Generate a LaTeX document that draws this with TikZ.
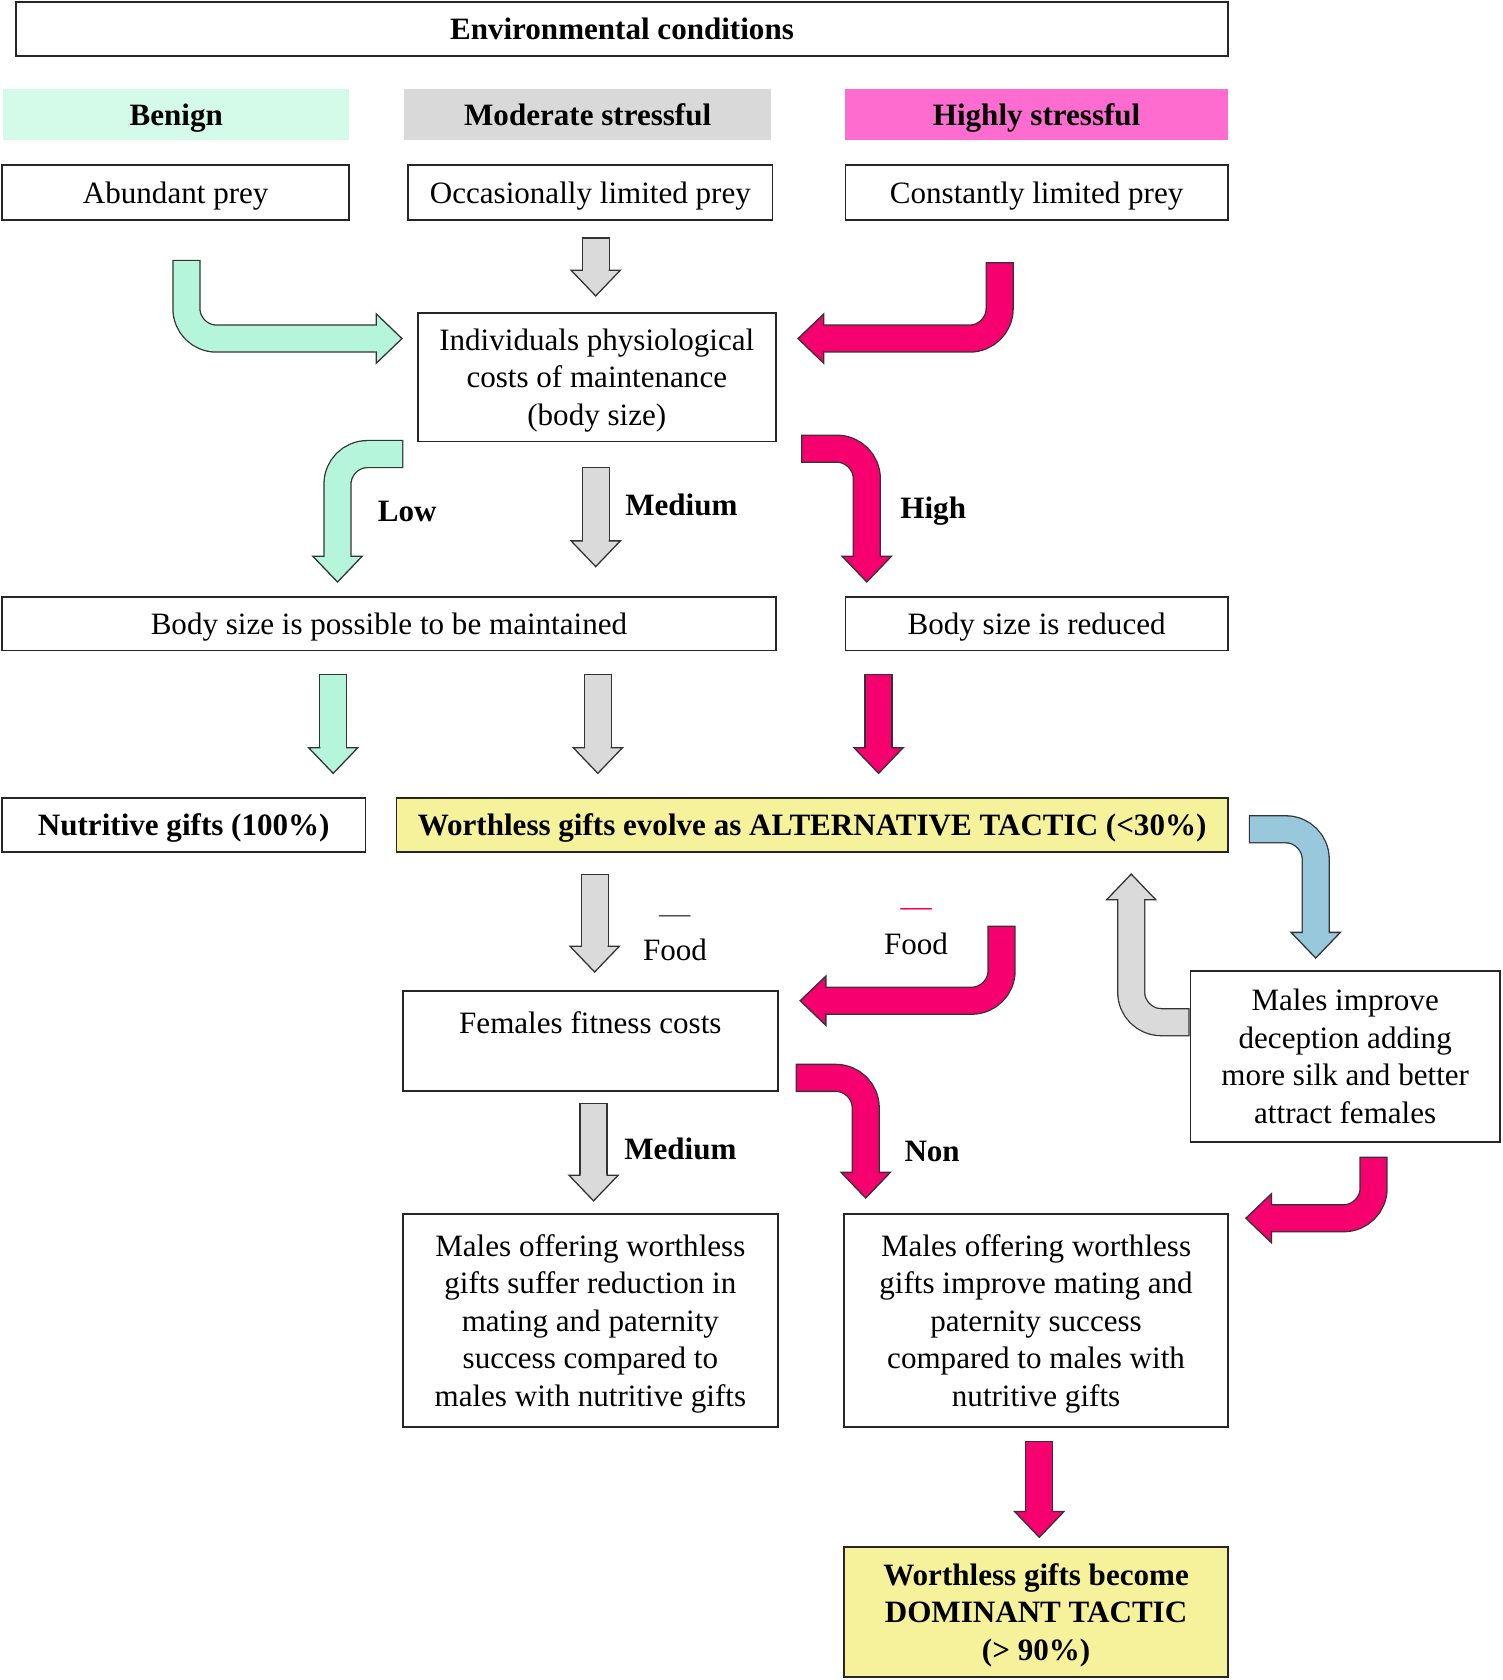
\documentclass[tikz,border=0pt]{standalone}
\usepackage{fontspec}
\setmainfont{Liberation Serif}
\usepackage{tikz}
\usetikzlibrary{calc}

\definecolor{mintbox}{RGB}{212,251,234}
\definecolor{mintarrow}{RGB}{180,245,220}
\definecolor{greybox}{RGB}{217,217,217}
\definecolor{greyarrow}{RGB}{218,218,218}
\definecolor{pinkbox}{RGB}{255,108,208}
\definecolor{pinkarrow}{RGB}{245,0,110}
\definecolor{bluearrow}{RGB}{152,200,220}
\definecolor{yellowbox}{RGB}{245,242,155}
\definecolor{dashgrey}{RGB}{80,80,80}

% block arrow: colour, shaft path up to the head, head base, direction
\newcommand{\bigarrow}[4]{%
	\draw[line width=13.2pt, draw=black!80, rounded corners=14pt, shorten <=-0.6pt] #2 (#3);
	\draw[line width=12pt, draw=#1, rounded corners=14pt] #2 (#3);
	\begin{scope}[shift={(#3)}, rotate=#4]
		\fill[#1] (-1,-12) -- (-1,12) -- (0,12) -- (0,23) -- (24,0) -- (0,-23) -- (0,-12) -- cycle;
		\draw[black!80, line width=0.6pt, line join=miter] (0,12) -- (0,23) -- (24,0) -- (0,-23) -- (0,-12);
	\end{scope}}

\begin{document}
\begin{tikzpicture}[x=0.5pt, y=-0.5pt,
		box/.style={draw=black!85, line width=0.8pt, inner sep=0pt, align=center, text depth=-3.7pt, font=\fontsize{14.5}{17.5}\selectfont},
		boldbox/.style={box, font=\fontsize{14.5}{17.5}\selectfont\bfseries},
		label/.style={inner sep=0pt, align=center, font=\fontsize{14.5}{17.5}\selectfont},
		boldlabel/.style={label, font=\fontsize{14.5}{17.5}\selectfont\bfseries}]
	\useasboundingbox (0,0) rectangle (1402,1568);

	\begin{scope}[every node/.style={boldbox}]
		\node[minimum width=565.5pt, minimum height=25pt] (env) at (580.5,27) {Environmental conditions};
		\node[draw=none, fill=mintbox, minimum width=161.5pt, minimum height=24pt] (benign) at (164.5,107) {Benign};
		\node[draw=none, fill=greybox, minimum width=171.5pt, minimum height=24pt] (moderate) at (548.5,107) {Moderate stressful};
		\node[draw=none, fill=pinkbox, minimum width=178.5pt, minimum height=24pt] (highly) at (967.5,107) {Highly stressful};
		\node[minimum width=169.5pt, minimum height=25pt] (nutri) at (171.5,770) {Nutritive gifts (100\%)};
		\node[fill=yellowbox, minimum width=388pt, minimum height=25pt] (alt) at (758,770) {Worthless gifts evolve as ALTERNATIVE TACTIC (<30\%)};
		\node[fill=yellowbox, minimum width=179pt, minimum height=60.5pt] (dom) at (967,1504.5) {Worthless gifts become\\DOMINANT TACTIC\\(> 90\%)};
	\end{scope}

	\begin{scope}[every node/.style={box}]
		\node[minimum width=162pt, minimum height=25.5pt] (prey1) at (164,179.5) {Abundant prey};
		\node[minimum width=170pt, minimum height=25.5pt] (prey2) at (551,179.5) {Occasionally limited prey};
		\node[minimum width=178.5pt, minimum height=25.5pt] (prey3) at (967.5,179.5) {Constantly limited prey};
		\node[minimum width=167pt, minimum height=60pt] (phys) at (557,352) {Individuals physiological\\costs of maintenance\\(body size)};
		\node[minimum width=361pt, minimum height=25pt] (maint) at (363,582) {Body size is possible to be maintained};
		\node[minimum width=178.5pt, minimum height=25pt] (reduced) at (967.5,582) {Body size is reduced};
		\node[minimum width=175pt, minimum height=46.5pt] (fem) at (551,971.5) {Females fitness costs\\\mbox{}};
		\node[minimum width=144.5pt, minimum height=80pt] (dec) at (1255.5,986) {Males improve\\deception adding\\more silk and better\\attract females};
		\node[minimum width=175pt, minimum height=99.5pt] (worse) at (551,1232.5) {Males offering worthless\\gifts suffer reduction in\\mating and paternity\\success compared to\\males with nutritive gifts};
		\node[minimum width=179pt, minimum height=99.5pt] (better) at (967,1232.5) {Males offering worthless\\gifts improve mating and\\paternity success\\compared to males with\\nutritive gifts};
	\end{scope}

	% arrows into the cost box
	\bigarrow{mintarrow}{($(prey1.south)+(10,38)$) |-}{$(phys.west)+(-38,-36)$}{0}
	\bigarrow{greyarrow}{($(prey2.south)+(5,17)$) --}{$(phys.north)+(-1,-39)$}{-90}
	\bigarrow{pinkarrow}{($(prey3.south)+(-34.5,40)$) |-}{$(phys.east)+(44,-36)$}{180}

	% arrows out of the cost box
	\bigarrow{mintarrow}{($(phys.south west)+(-14,11)$) -|}{$(maint.north)+(-48,-37)$}{-90}
	\bigarrow{greyarrow}{($(phys.south)+(-1,24)$) --}{$(phys.south)+(-1,92)$}{-90}
	\bigarrow{pinkarrow}{($(phys.south east)+(24,6)$) -|}{$(reduced.north)+(-158.5,-37)$}{-90}

	\bigarrow{mintarrow}{($(maint.south)+(-52,22)$) --}{$(maint.south)+(-52,90)$}{-90}
	\bigarrow{greyarrow}{($(maint.south)+(195,22)$) --}{$(maint.south)+(195,90)$}{-90}
	\bigarrow{pinkarrow}{($(reduced.south)+(-147.5,22)$) --}{$(reduced.south)+(-147.5,90)$}{-90}

	% lower part
	\bigarrow{greyarrow}{($(alt.south)+(-203,21)$) --}{$(fem.north)+(4,-41)$}{-90}
	\bigarrow{pinkarrow}{($(fem.north east)+(208,-59)$) |-}{$(fem.east)+(44,-37.5)$}{180}
	\bigarrow{bluearrow}{($(alt.east)+(20,4)$) -|}{$(dec.north)+(-27.5,-35)$}{-90}
	\bigarrow{greyarrow}{($(dec.west)+(-1,-32)$) -|}{$(alt.south east)+(-91,44)$}{90}
	\bigarrow{greyarrow}{($(fem.south)+(3,12)$) --}{$(fem.south)+(3,78)$}{-90}
	\bigarrow{pinkarrow}{($(fem.east)+(17,34.5)$) -|}{$(better.north)+(-159,-38)$}{-90}
	\bigarrow{pinkarrow}{($(dec.south)+(26.5,14)$) |-}{$(better.east)+(40,-95.5)$}{180}
	\bigarrow{pinkarrow}{($(better.south)+(3,13)$) --}{$(better.south)+(3,78)$}{-90}

	\node[boldlabel] (low) at (380,477) {Low};
	\node[boldlabel] (med1) at (636,471) {Medium};
	\node[boldlabel] (high) at (871,477) {High};
	\node[label] (food1) at (630,872) {\strut\textcolor{dashgrey}{---}\\\strut Food};
	\node[label] (food2) at (855,866) {\strut\textcolor{pinkarrow}{---}\\\strut Food};
	\node[boldlabel] (med2) at (635,1072) {Medium};
	\node[boldlabel] (non) at (870,1075) {Non};
\end{tikzpicture}
\end{document}
